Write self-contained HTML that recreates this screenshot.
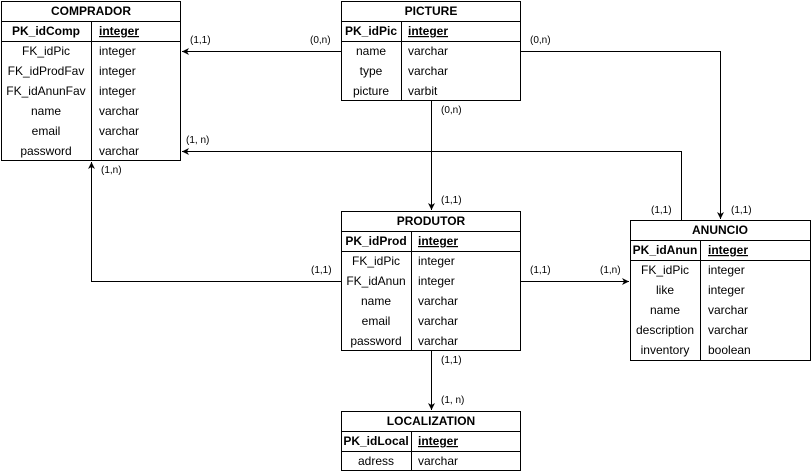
<!DOCTYPE html>
<html><head><meta charset="utf-8"><style>
html,body{margin:0;padding:0;background:#fff;}
svg{display:block;}
text{font-family:"Liberation Sans",Arial,sans-serif;fill:#000;}
.h{font-size:12px;font-weight:bold;}
.t{font-size:12px;}
.l{font-size:10px;}
</style></head><body>
<svg width="812" height="472" viewBox="0 0 812 472" xmlns="http://www.w3.org/2000/svg">
<defs><marker id="a" markerWidth="8" markerHeight="8" refX="7" refY="4" orient="auto" markerUnits="userSpaceOnUse"><path d="M0,0.5 L7,4 L0,7.5 L2,4 Z" fill="#000"/></marker></defs>
<g stroke="#000" stroke-width="1" fill="none">
<path d="M341,51.5 H182" marker-end="url(#a)"/>
<path d="M521,51.5 H720.5 V219" marker-end="url(#a)"/>
<path d="M431.5,101 V210" marker-end="url(#a)"/>
<path d="M681.5,220 V151.5 H182" marker-end="url(#a)"/>
<path d="M341,281.5 H91.5 V162" marker-end="url(#a)"/>
<path d="M521,281.5 H629" marker-end="url(#a)"/>
<path d="M431.5,351 V410" marker-end="url(#a)"/>
</g>
<g stroke="#000" stroke-width="1" fill="#fff">
<rect x="1.5" y="1.5" width="179" height="159"/>
<line x1="1.5" y1="21.5" x2="180.5" y2="21.5"/><line x1="1.5" y1="41.5" x2="180.5" y2="41.5"/><line x1="91.5" y1="21.5" x2="91.5" y2="160.5"/>
<rect x="341.5" y="1.5" width="179" height="99"/>
<line x1="341.5" y1="21.5" x2="520.5" y2="21.5"/><line x1="341.5" y1="41.5" x2="520.5" y2="41.5"/><line x1="401.5" y1="21.5" x2="401.5" y2="100.5"/>
<rect x="341.5" y="211.5" width="179" height="139"/>
<line x1="341.5" y1="231.5" x2="520.5" y2="231.5"/><line x1="341.5" y1="251.5" x2="520.5" y2="251.5"/><line x1="411.5" y1="231.5" x2="411.5" y2="350.5"/>
<rect x="630.5" y="220.5" width="180" height="140"/>
<line x1="630.5" y1="240.5" x2="810.5" y2="240.5"/><line x1="630.5" y1="260.5" x2="810.5" y2="260.5"/><line x1="700.5" y1="240.5" x2="700.5" y2="360.5"/>
<rect x="341.5" y="411.5" width="179" height="59"/>
<line x1="341.5" y1="431.5" x2="520.5" y2="431.5"/><line x1="341.5" y1="451.5" x2="520.5" y2="451.5"/><line x1="411.5" y1="431.5" x2="411.5" y2="470.5"/>
</g>
<g transform="translate(0,-1)">
<text class="h" x="91" y="16" text-anchor="middle">COMPRADOR</text>
<text class="h" x="46" y="36" text-anchor="middle">PK_idComp</text>
<text class="h" x="99" y="36" text-decoration="underline">integer</text>
<g class="t" text-anchor="middle">
<text x="46" y="56">FK_idPic</text><text x="46" y="76">FK_idProdFav</text><text x="46" y="96">FK_idAnunFav</text><text x="46" y="116">name</text><text x="46" y="136">email</text><text x="46" y="156">password</text>
</g>
<g class="t"><text x="99" y="56">integer</text><text x="99" y="76">integer</text><text x="99" y="96">integer</text><text x="99" y="116">varchar</text><text x="99" y="136">varchar</text><text x="99" y="156">varchar</text></g>
<text class="h" x="431" y="16" text-anchor="middle">PICTURE</text>
<text class="h" x="371" y="36" text-anchor="middle">PK_idPic</text>
<text class="h" x="408" y="36" text-decoration="underline">integer</text>
<g class="t" text-anchor="middle"><text x="371" y="56">name</text><text x="371" y="76">type</text><text x="371" y="96">picture</text></g>
<g class="t"><text x="408" y="56">varchar</text><text x="408" y="76">varchar</text><text x="408" y="96">varbit</text></g>
<text class="h" x="431" y="226" text-anchor="middle">PRODUTOR</text>
<text class="h" x="376" y="246" text-anchor="middle">PK_idProd</text>
<text class="h" x="418" y="246" text-decoration="underline">integer</text>
<g class="t" text-anchor="middle"><text x="376" y="266">FK_idPic</text><text x="376" y="286">FK_idAnun</text><text x="376" y="306">name</text><text x="376" y="326">email</text><text x="376" y="346">password</text></g>
<g class="t"><text x="418" y="266">integer</text><text x="418" y="286">integer</text><text x="418" y="306">varchar</text><text x="418" y="326">varchar</text><text x="418" y="346">varchar</text></g>
<text class="h" x="720" y="235" text-anchor="middle">ANUNCIO</text>
<text class="h" x="665" y="255" text-anchor="middle">PK_idAnun</text>
<text class="h" x="708" y="255" text-decoration="underline">integer</text>
<g class="t" text-anchor="middle"><text x="665" y="275">FK_idPic</text><text x="665" y="295">like</text><text x="665" y="315">name</text><text x="665" y="335">description</text><text x="665" y="355">inventory</text></g>
<g class="t"><text x="708" y="275">integer</text><text x="708" y="295">integer</text><text x="708" y="315">varchar</text><text x="708" y="335">varchar</text><text x="708" y="355">boolean</text></g>
<text class="h" x="431" y="426" text-anchor="middle">LOCALIZATION</text>
<text class="h" x="376" y="446" text-anchor="middle">PK_idLocal</text>
<text class="h" x="418" y="446" text-decoration="underline">integer</text>
<text class="t" x="376" y="466" text-anchor="middle">adress</text>
<text class="t" x="418" y="466">varchar</text>
<g class="l">
<text x="190" y="44">(1,1)</text><text x="310" y="44">(0,n)</text>
<text x="530" y="44">(0,n)</text><text x="731" y="214">(1,1)</text>
<text x="441" y="114">(0,n)</text><text x="441" y="204">(1,1)</text>
<text x="186" y="144">(1, n)</text><text x="651" y="214">(1,1)</text>
<text x="101" y="174">(1,n)</text><text x="311" y="274">(1,1)</text>
<text x="530" y="274">(1,1)</text><text x="600" y="274">(1,n)</text>
<text x="441" y="364">(1,1)</text><text x="441" y="404">(1, n)</text>
</g>
</g>
</svg>
</body></html>
